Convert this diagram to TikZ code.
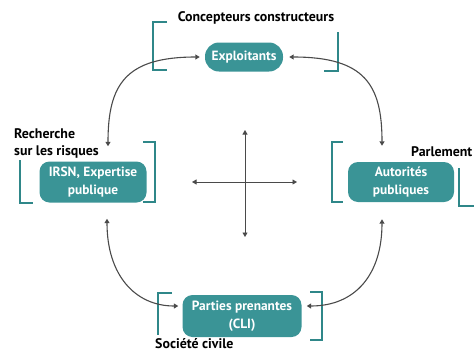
\documentclass[tikz,border=0pt]{standalone}
\usepackage{fontspec}
\setmainfont{PT Sans}
\usetikzlibrary{arrows.meta,calc}
\definecolor{tealfill}{HTML}{3A9496}
\definecolor{tealbr}{HTML}{2F8789}
\definecolor{linegray}{HTML}{4A4A4A}
\tikzset{
  actor/.style={fill=tealfill, text=white, font=\bfseries\fontsize{13.4}{18}\selectfont, align=center, inner sep=0pt},
  lab/.style={font=\bfseries\fontsize{13.9}{17}\selectfont, inner sep=0pt},
  brk/.style={draw=tealbr, line width=2.5pt},
  conn/.style={draw=linegray, line width=1.1pt, {Triangle[length=4.5pt,width=5pt]}-{Triangle[length=4.5pt,width=5pt]}},
  axis/.style={draw=linegray, line width=0.9pt, {Triangle[length=4.5pt,width=5pt]}-{Triangle[length=4.5pt,width=5pt]}}
}
\begin{document}
\begin{tikzpicture}[x=1pt,y=-1pt]
\useasboundingbox (0,0) rectangle (474,354);
% nodes
\node[actor, minimum width=78pt, minimum height=29pt, rounded corners=14pt] (exp) at (244,57) {Exploitants};
\node[actor, minimum width=107pt, minimum height=41pt, rounded corners=10pt] (irsn) at (93,182) {IRSN, Expertise\\publique};
\node[actor, minimum width=106pt, minimum height=40pt, rounded corners=10pt] (aut) at (401,182) {Autorités\\publiques};
\node[actor, minimum width=119pt, minimum height=42pt, rounded corners=10pt] (pp) at (242,316) {Parties prenantes\\(CLI)};
% labels
\node[lab] (lconc) at (256,18) {Concepteurs constructeurs};
\node[lab, anchor=west, align=left] (lrech) at (14,143) {Recherche\\sur les risques};
\node[lab, anchor=west] (lparl) at (411,152) {Parlement};
\node[lab, anchor=west] (lsoc) at (155,344) {Société civile};
% brackets
\draw[brk] (167,22) -- (153,22) -- (153,70) -- (167,70);
\draw[brk] (338,32) -- (338,71) -- (324,71);
\draw[brk] (20,160) -- (20,203) -- (33,203);
\draw[brk] (143,142) -- (155,142) -- (155,202) -- (143,202);
\draw[brk] (343,142) -- (332,142) -- (332,202) -- (343,202);
\draw[brk] (459,168) -- (459,206) -- (474,206);
\draw[brk] (172,293) -- (158,293) -- (158,335);
\draw[brk] (310,292) -- (322,292) -- (322,340) -- (310,340);
% connectors
\draw[conn] ($(exp.west)+(-5,0)$) .. controls (125,57) and (108,85) .. ($(irsn.north)+(15,-15)$);
\draw[conn] ($(exp.east)+(6,0)$) .. controls (365,57) and (382,85) .. ($(aut.north)+(-19,-16)$);
\draw[conn] ($(irsn.south)+(14,16)$) .. controls (107,275) and (135,306) .. ($(pp.west)+(-4,-10)$);
\draw[conn] ($(aut.south)+(-19,17)$) .. controls (382,275) and (355,306) .. ($(pp.east)+(5,-10)$);
% cross
\coordinate (ctop) at (245,130);
\coordinate (cbot) at (245,237);
\coordinate (cleft) at (192,182);
\coordinate (cright) at (297,182);
\draw[axis] (ctop) -- (cbot);
\draw[axis] (cleft) -- (cright);
\end{tikzpicture}
\end{document}
